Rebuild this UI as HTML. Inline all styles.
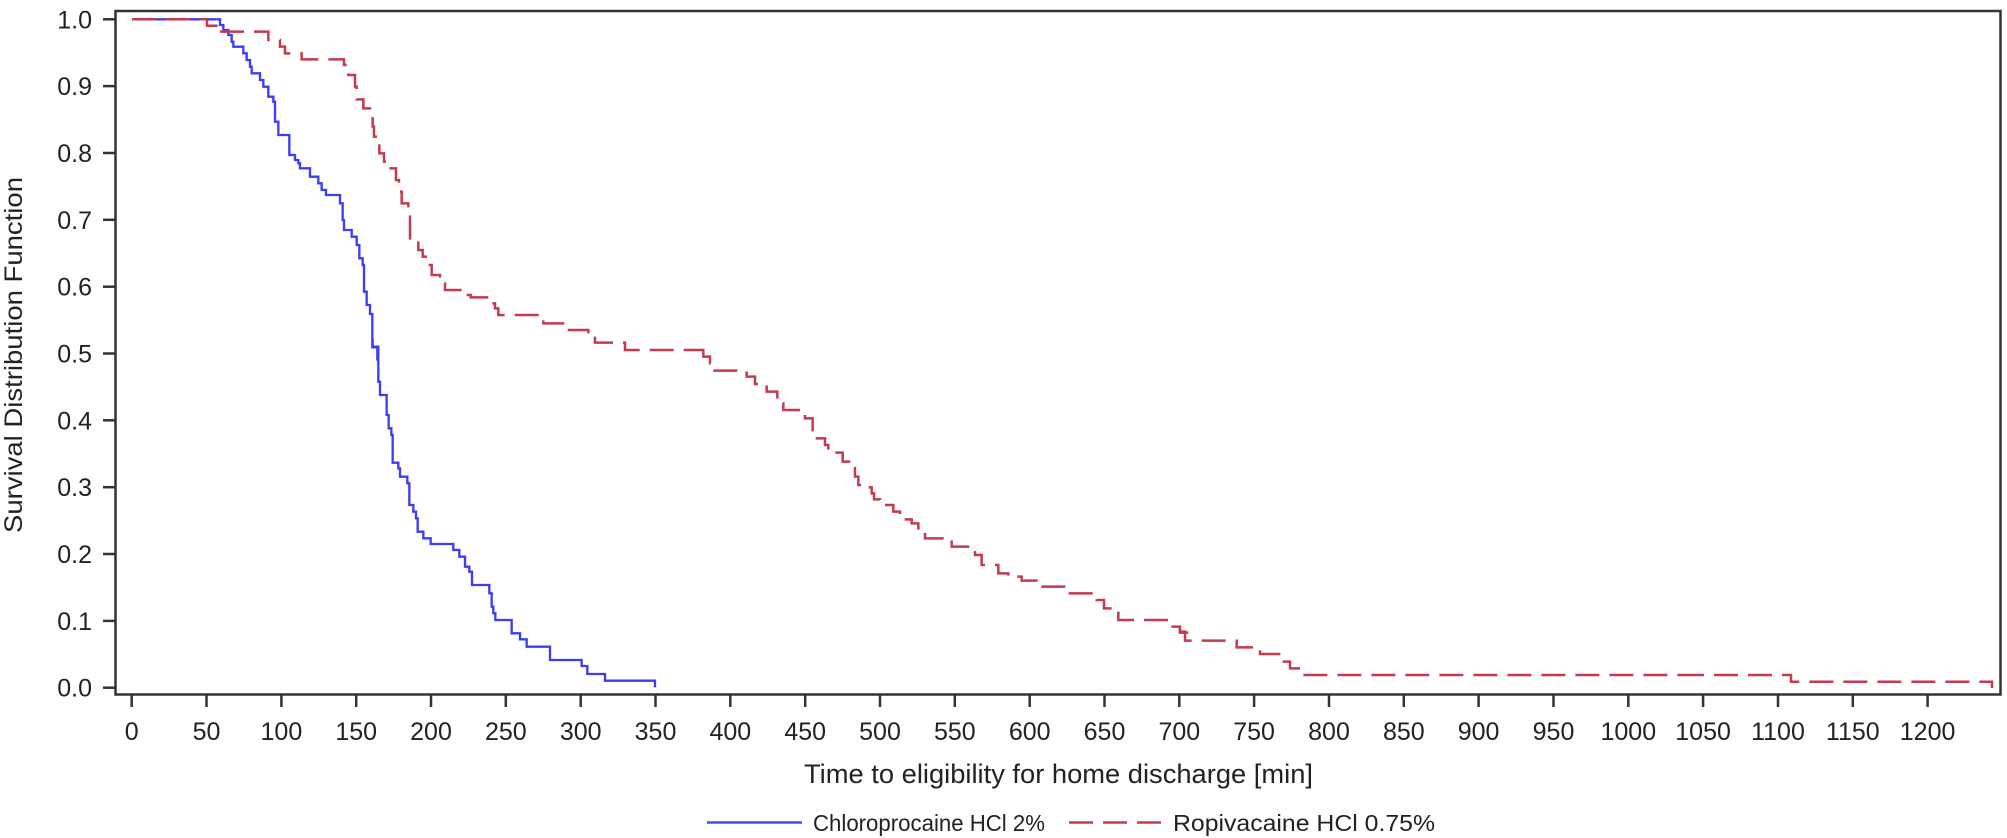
<!DOCTYPE html>
<html><head><meta charset="utf-8"><style>
html,body{margin:0;padding:0;background:#fff;}
svg{display:block;}
text{font-family:"Liberation Sans",Arial,sans-serif;fill:#222;}
</style></head><body>
<svg width="2007" height="838" viewBox="0 0 2007 838" xmlns="http://www.w3.org/2000/svg">
<rect x="0" y="0" width="2007" height="838" fill="#fff"/>
<!-- frame -->
<rect x="115.5" y="11" width="1885" height="683.5" fill="none" stroke="#333" stroke-width="2.5"/>
<!-- y ticks -->
<g stroke="#333" stroke-width="2.5">
<line x1="103" x2="115" y1="687.7" y2="687.7"/><line x1="103" x2="115" y1="620.9" y2="620.9"/>
<line x1="103" x2="115" y1="554.0" y2="554.0"/><line x1="103" x2="115" y1="487.2" y2="487.2"/>
<line x1="103" x2="115" y1="420.3" y2="420.3"/><line x1="103" x2="115" y1="353.5" y2="353.5"/>
<line x1="103" x2="115" y1="286.7" y2="286.7"/><line x1="103" x2="115" y1="219.8" y2="219.8"/>
<line x1="103" x2="115" y1="153.0" y2="153.0"/><line x1="103" x2="115" y1="86.1" y2="86.1"/>
<line x1="103" x2="115" y1="19.3" y2="19.3"/>
</g>
<g font-size="25" text-anchor="end">
<text x="92" y="696.7">0.0</text><text x="92" y="629.9">0.1</text><text x="92" y="563">0.2</text>
<text x="92" y="496.2">0.3</text><text x="92" y="429.3">0.4</text><text x="92" y="362.5">0.5</text>
<text x="92" y="295.7">0.6</text><text x="92" y="228.8">0.7</text><text x="92" y="162">0.8</text>
<text x="92" y="95.1">0.9</text><text x="92" y="28.3">1.0</text>
</g>
<!-- x ticks -->
<g stroke="#333" stroke-width="2.5">
<line x1="131.7" x2="131.7" y1="695" y2="707"/><line x1="206.5" x2="206.5" y1="695" y2="707"/>
<line x1="281.4" x2="281.4" y1="695" y2="707"/><line x1="356.2" x2="356.2" y1="695" y2="707"/>
<line x1="431.0" x2="431.0" y1="695" y2="707"/><line x1="505.8" x2="505.8" y1="695" y2="707"/>
<line x1="580.7" x2="580.7" y1="695" y2="707"/><line x1="655.5" x2="655.5" y1="695" y2="707"/>
<line x1="730.3" x2="730.3" y1="695" y2="707"/><line x1="805.2" x2="805.2" y1="695" y2="707"/>
<line x1="880.0" x2="880.0" y1="695" y2="707"/><line x1="954.8" x2="954.8" y1="695" y2="707"/>
<line x1="1029.7" x2="1029.7" y1="695" y2="707"/><line x1="1104.5" x2="1104.5" y1="695" y2="707"/>
<line x1="1179.3" x2="1179.3" y1="695" y2="707"/><line x1="1254.1" x2="1254.1" y1="695" y2="707"/>
<line x1="1329.0" x2="1329.0" y1="695" y2="707"/><line x1="1403.8" x2="1403.8" y1="695" y2="707"/>
<line x1="1478.6" x2="1478.6" y1="695" y2="707"/><line x1="1553.5" x2="1553.5" y1="695" y2="707"/>
<line x1="1628.3" x2="1628.3" y1="695" y2="707"/><line x1="1703.1" x2="1703.1" y1="695" y2="707"/>
<line x1="1778.0" x2="1778.0" y1="695" y2="707"/><line x1="1852.8" x2="1852.8" y1="695" y2="707"/>
<line x1="1927.6" x2="1927.6" y1="695" y2="707"/>
</g>
<g font-size="25" text-anchor="middle">
<text x="131.7" y="740">0</text><text x="206.5" y="740">50</text><text x="281.4" y="740">100</text>
<text x="356.2" y="740">150</text><text x="431.0" y="740">200</text><text x="505.8" y="740">250</text>
<text x="580.7" y="740">300</text><text x="655.5" y="740">350</text><text x="730.3" y="740">400</text>
<text x="805.2" y="740">450</text><text x="880.0" y="740">500</text><text x="954.8" y="740">550</text>
<text x="1029.7" y="740">600</text><text x="1104.5" y="740">650</text><text x="1179.3" y="740">700</text>
<text x="1254.1" y="740">750</text><text x="1329.0" y="740">800</text><text x="1403.8" y="740">850</text>
<text x="1478.6" y="740">900</text><text x="1553.5" y="740">950</text><text x="1628.3" y="740">1000</text>
<text x="1703.1" y="740">1050</text><text x="1778.0" y="740">1100</text><text x="1852.8" y="740">1150</text>
<text x="1927.6" y="740">1200</text>
</g>
<text x="804" y="783" font-size="27" textLength="509" lengthAdjust="spacingAndGlyphs">Time to eligibility for home discharge [min]</text>
<text transform="translate(22,355) rotate(-90)" font-size="25" text-anchor="middle" textLength="356" lengthAdjust="spacingAndGlyphs">Survival Distribution Function</text>
<!-- legend -->
<line x1="707" x2="802" y1="822.5" y2="822.5" stroke="#4a4af0" stroke-width="2.5"/>
<text x="813" y="831" font-size="23" textLength="232" lengthAdjust="spacingAndGlyphs">Chloroprocaine HCl 2%</text>
<line x1="1069" x2="1163" y1="822.5" y2="822.5" stroke="#c43a4e" stroke-width="2.5" stroke-dasharray="24 10"/>
<text x="1173" y="831" font-size="23" textLength="262" lengthAdjust="spacingAndGlyphs">Ropivacaine HCl 0.75%</text>

<!-- Blue curve -->
<g fill="none" stroke="#3d3df2" stroke-width="2.3" stroke-linejoin="miter">
<path d="M132,19.3 H216.7"/>
<g transform="translate(200,10) scale(0.33333)">
<polyline stroke-width="7" points="50,28 60,28 60,45 70,45 70,60 85,60 85,75 95,75 95,95 100,95 100,110 130,110 130,130 140,130 140,150 150,150 150,170 155,170 155,190 180,190 180,210 190,210 190,230 205,230 205,260 220,260 220,275 225,275 225,335 235,335 235,375 268,375 268,435 285,435 285,450 295,450 295,460 300,460 300,475 330,475 330,500 355,500 355,520 365,520 365,540 378,540 378,555 420,555 420,580 428,580 428,630 432,630 432,660 455,660 455,680 470,680 470,705 478,705 478,745 488,745 488,765 492,765 492,845 500,845 500,885 510,885 510,912 517,912 517,1012 532,1012 532,1052"/>
</g>
<g transform="translate(300,340) scale(0.33333)">
<polyline stroke-width="7" points="215,0 218,0 218,20 235,20 235,125 240,125 240,165 260,165 260,225 266,225 266,265 274,265 274,285 278,285 278,368 295,368 295,385 300,385 300,410 322,410 322,430 328,430 328,495 340,495 340,515 348,515 348,535 353,535 353,575 370,575 370,595 392,595 392,612 460,612 460,630 478,630 478,650 495,650 495,680 508,680 508,695 516,695 516,735 568,735 568,760 575,760 575,800 580,800 580,820 586,820 586,840 635,840 635,880 660,880 660,898 680,898 680,920 750,920 750,960 845,960 845,978 862,978 862,1002 915,1002 915,1022 1065,1022 1065,1042"/>
</g>
</g>

<!-- Red curve -->
<g fill="none" stroke="#c43a4e" stroke-width="2.5">
<path d="M132,19.3 H207 V25.7 H220 V31.7" stroke-dasharray="24 10"/>
<g transform="translate(200,10) scale(0.33333)">
<polyline stroke-width="7.5" stroke-dasharray="72 30" points="60,65 205,65 205,90 240,90 240,110 255,110 255,130 305,130 305,148 432,148 432,165 445,165 445,195 465,195 465,230 470,230 470,268 490,268 490,295 510,295 510,325 518,325 518,350 522,350 522,380 538,380 538,430 552,430 552,455 572,455 572,475 588,475 588,510 597,510 597,545 605,545 605,580 625,580 625,620 630,620 630,685 655,685 655,720 668,720 668,740 685,740 685,765 695,765 695,795 720,795 720,820 735,820 735,840 800,840 800,855 812,855 812,862 865,862 865,880 885,880 885,895 895,895 895,915 1030,915 1030,940 1095,940 1095,960 1165,960 1165,980 1185,980 1185,998 1275,998 1275,1020 1500,1020"/>
</g>
<g transform="translate(690,330) scale(0.33333)">
<polyline stroke-width="7.5" stroke-dasharray="72 30" points="30,60 40,60 40,80 60,80 60,100 68,100 68,122 170,122 170,140 195,140 195,162 230,162 230,185 262,185 262,220 280,220 280,240 345,240 345,265 368,265 368,325 405,325 405,345 415,345 415,368 458,368 458,395 488,395 488,410 495,410 495,440 505,440 505,465 525,465 525,472 545,472 545,490 552,490 552,508 570,508 570,525 610,525 610,545 630,545 630,568 665,568 665,580 685,580 685,595 705,595 705,625 785,625 785,650 855,650 855,675 875,675 875,705 925,705 925,730 955,730 955,740 995,740 995,752 1040,752 1040,770 1135,770 1135,790 1220,790 1220,810 1242,810 1242,835 1285,835 1285,870 1440,870 1440,890 1470,890 1470,908 1495,908"/>
</g>
<g transform="translate(1180,520) scale(0.33333)">
<polyline stroke-width="7.5" stroke-dasharray="72 30" points="0,325 0,335 15,335 15,362 170,362 170,382 240,382 240,402 305,402 305,425 330,425 330,445 370,445 370,465 1500,465"/>
</g>
<path d="M1680,675 H1791 V681.7 H1992 V688" stroke-dasharray="24 10"/>
</g>
</svg>
</body></html>
